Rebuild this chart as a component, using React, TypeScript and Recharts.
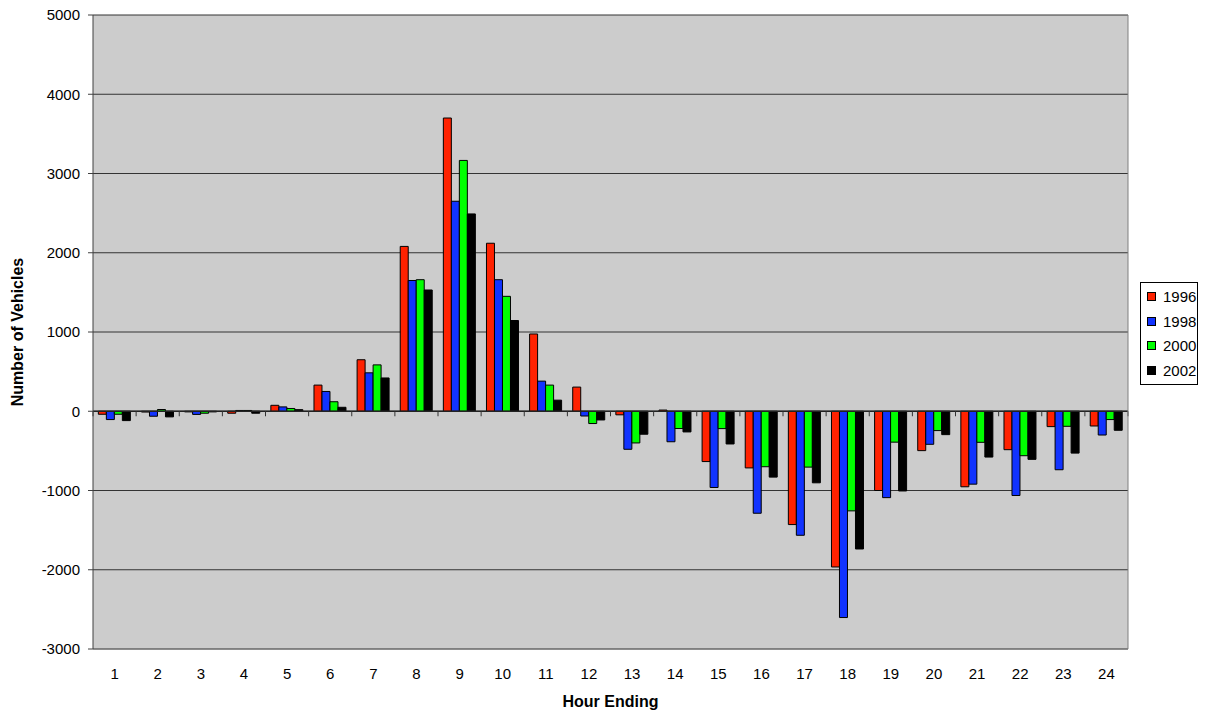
import React from 'react';
import {
  BarChart,
  Bar,
  XAxis,
  YAxis,
  CartesianGrid,
  ReferenceLine,
  Legend,
} from 'recharts';

// Net vehicle counts by hour ending, one series per survey year
const hours = [
  '1', '2', '3', '4', '5', '6', '7', '8', '9', '10', '11', '12',
  '13', '14', '15', '16', '17', '18', '19', '20', '21', '22', '23', '24',
];
const y1996 = [
  -38, -10, -8, -25, 75, 330, 650, 2080, 3700, 2120, 975, 305,
  -45, 15, -635, -715, -1430, -1965, -1000, -497, -953, -485, -194, -186,
];
const y1998 = [
  -105, -63, -40, 10, 55, 250, 485, 1650, 2650, 1660, 380, -60,
  -480, -385, -962, -1287, -1565, -2603, -1090, -417, -920, -1063, -738, -300,
];
const y2000 = [
  -38, 22, -25, 10, 35, 120, 585, 1660, 3165, 1450, 330, -155,
  -400, -218, -219, -700, -705, -1257, -390, -244, -392, -561, -190, -105,
];
const y2002 = [
  -118, -71, -8, -25, 20, 50, 420, 1530, 2490, 1145, 140, -110,
  -290, -261, -413, -831, -903, -1738, -1006, -295, -578, -607, -528, -240,
];
const yTicks = [-3000, -2000, -1000, 0, 1000, 2000, 3000, 4000, 5000];

const seriesList = [
  { key: 'y1996', name: '1996', color: '#FF2200' },
  { key: 'y1998', name: '1998', color: '#1133FF' },
  { key: 'y2000', name: '2000', color: '#00FF00' },
  { key: 'y2002', name: '2002', color: '#000000' },
];

const data = hours.map((h, i) => ({
  hour: h,
  y1996: y1996[i],
  y1998: y1998[i],
  y2000: y2000[i],
  y2002: y2002[i],
}));

const FONT = 'Arial, "Liberation Sans", sans-serif';

// Category axis drawn through zero, with tick marks at each category boundary
const ZeroAxis = (props: any) => {
  const { x1, x2, y1 } = props;
  const n = hours.length;
  const step = (x2 - x1) / n;
  const ticks = [];
  for (let i = 0; i <= n; i++) {
    const x = x1 + i * step;
    ticks.push(
      <line key={i} x1={x} x2={x} y1={y1} y2={y1 + 5} stroke="#333333" strokeWidth={1} />
    );
  }
  return (
    <g>
      <line x1={x1} x2={x2} y1={y1} y2={y1} stroke="#222222" strokeWidth={1.3} />
      {ticks}
    </g>
  );
};

const YTitle = (props: any) => {
  const vb = props.viewBox || { x: 0, y: 15, width: 93, height: 634 };
  const x = vb.x + 23;
  const y = vb.y + vb.height / 2;
  return (
    <text
      x={x}
      y={y}
      transform={`rotate(-90, ${x}, ${y})`}
      textAnchor="middle"
      fontFamily={FONT}
      fontSize={16}
      fontWeight="bold"
      fill="#000"
    >
      Number of Vehicles
    </text>
  );
};

const LegendBox = () => (
  <div
    style={{
      border: '1px solid #000',
      background: '#fff',
      width: 56,
      padding: '1px 0',
      fontFamily: FONT,
      fontSize: 15,
      color: '#000',
    }}
  >
    {seriesList.map((s) => (
      <div
        key={s.key}
        style={{ display: 'flex', alignItems: 'center', height: 24.7, paddingLeft: 6 }}
      >
        <span
          style={{
            display: 'inline-block',
            width: 7,
            height: 7,
            background: s.color,
            border: '1px solid #000',
            marginRight: 7,
          }}
        />
        <span>{s.name}</span>
      </div>
    ))}
  </div>
);

export default function App() {
  return (
    <div style={{ position: 'absolute', left: 0, top: 0, width: 1208, height: 713 }}>
      <BarChart
        width={1208}
        height={713}
        data={data}
        margin={{ top: 15, right: 79, bottom: 0, left: 0 }}
        barCategoryGap="12.4%"
        barGap={0}
        style={{ fontFamily: FONT }}
      >
        <CartesianGrid
          vertical={false}
          stroke="#333333"
          strokeWidth={1}
          fill="#CCCCCC"
          fillOpacity={1}
          yAxisId="left"
        />
        <XAxis
          dataKey="hour"
          interval={0}
          tickLine={false}
          tickSize={0}
          tickMargin={19}
          height={64}
          axisLine={{ stroke: '#808080' }}
          tick={{ fontSize: 15, fill: '#000', fontFamily: FONT }}
          label={{
            value: 'Hour Ending',
            position: 'insideBottom',
            offset: 6.5,
            fontSize: 16,
            fontWeight: 'bold',
            fill: '#000',
            fontFamily: FONT,
          }}
        />
        <YAxis
          yAxisId="left"
          width={93}
          domain={[-3000, 5000]}
          ticks={yTicks}
          interval={0}
          allowDataOverflow
          tickSize={5}
          tickMargin={8}
          axisLine={{ stroke: '#404040' }}
          tickLine={{ stroke: '#404040' }}
          tick={{ fontSize: 15, fill: '#000', fontFamily: FONT }}
          label={{ value: 'Number of Vehicles', content: YTitle }}
        />
        <YAxis
          yAxisId="right"
          orientation="right"
          width={1}
          domain={[-3000, 5000]}
          tick={false}
          tickLine={false}
          axisLine={{ stroke: '#808080' }}
        />
        {seriesList.map((s) => (
          <Bar
            key={s.key}
            yAxisId="left"
            dataKey={s.key}
            name={s.name}
            fill={s.color}
            stroke="#000"
            strokeWidth={1}
            isAnimationActive={false}
          />
        ))}
        <ReferenceLine yAxisId="left" y={0} shape={ZeroAxis} />
        <Legend
          layout="vertical"
          verticalAlign="middle"
          align="center"
          content={<LegendBox />}
          wrapperStyle={{ position: 'absolute', left: 1140, top: 282, width: 58 }}
        />
      </BarChart>
    </div>
  );
}
